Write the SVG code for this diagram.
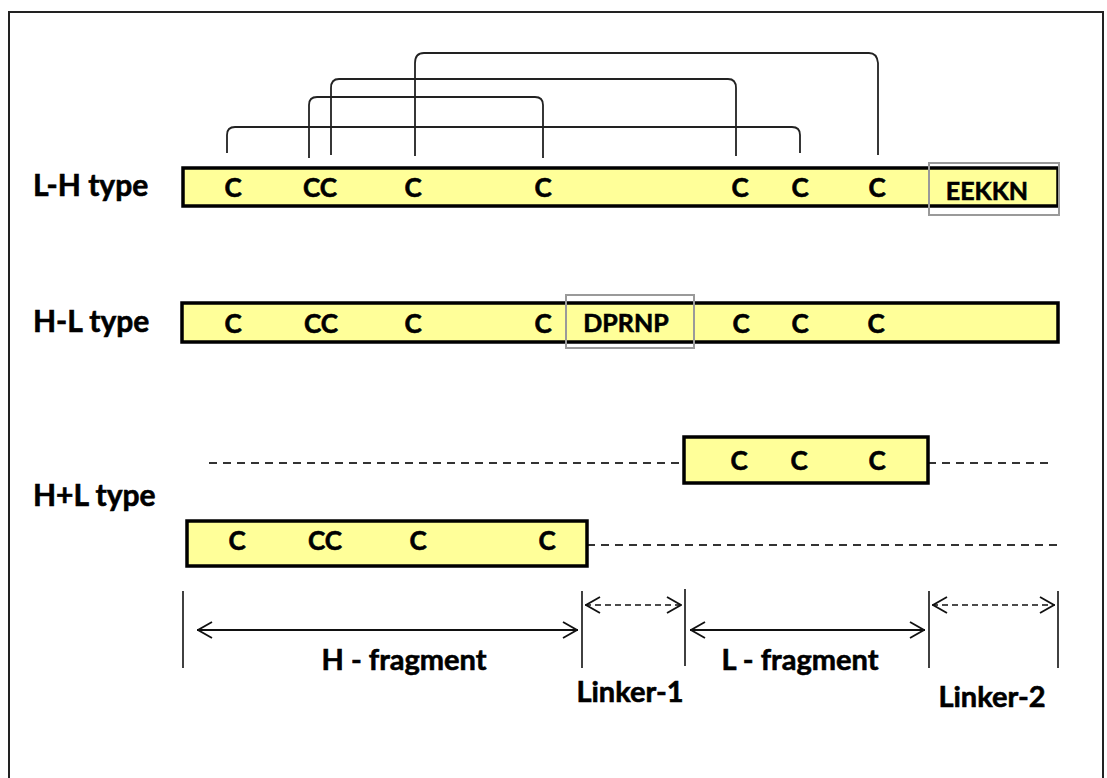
<svg xmlns="http://www.w3.org/2000/svg" width="1107" height="778" viewBox="0 0 1107 778">
<defs>
<style>
.bar{fill:#ffff99;stroke:#000;stroke-width:3.5}
.hl{fill:none;stroke:#9a9a9a;stroke-width:2}
.br{fill:none;stroke:#222;stroke-width:1.8}
.dash{stroke:#333;stroke-width:2;stroke-dasharray:8 6;fill:none}
.tick{stroke:#111;stroke-width:1.6}
.sarr{stroke:#111;stroke-width:1.8;fill:none}
.darr{stroke:#111;stroke-width:1.6;fill:none;stroke-dasharray:6 4}
text{font-family:Lato,"Open Sans","Liberation Sans",sans-serif;font-weight:bold;fill:#000;stroke:#000;stroke-width:0.6}
.lab{font-size:30px}
.c{font-size:26px;text-anchor:middle}
.seq{font-size:25px;text-anchor:middle}
.dim{font-size:29px;text-anchor:middle}
</style>
<marker id="ah" viewBox="0 0 16 18" refX="16" refY="9" markerWidth="16" markerHeight="18" markerUnits="userSpaceOnUse" orient="auto-start-reverse">
<path d="M1,1 L15,9 L1,17" fill="none" stroke="#111" stroke-width="1.8"/>
</marker>
</defs>
<rect x="9" y="12" width="1094" height="790" fill="#fff" stroke="#222" stroke-width="2"/>

<g id="connectors">
<path class="br" d="M227,153 L227,135 Q227,127 235,127 L792,127 Q800,127 800,135 L800,153"/>
<path class="br" d="M309,158 L309,105 Q309,97 317,97 L535,97 Q543,97 543,105 L543,158"/>
<path class="br" d="M331,155 L331,88 Q331,79 339,79 L728,79 Q736,79 736,88 L736,156"/>
<path class="br" d="M415,156 L415,63 Q415,53 424,53 L869,53 Q877,53 878,63 L878,155"/>
<line class="dash" x1="209" y1="463" x2="683" y2="463"/>
<line class="dash" x1="928" y1="463" x2="1052" y2="463"/>
<line class="dash" x1="587" y1="545" x2="1060" y2="545"/>
</g>

<g id="lh-type">
<text class="lab" x="33" y="196">L-H type</text>
<rect class="bar" x="183" y="168" width="875" height="38"/>
<text class="c" x="233" y="197">C</text>
<text class="c" x="320" y="197">CC</text>
<text class="c" x="413" y="197">C</text>
<text class="c" x="543" y="197">C</text>
<text class="c" x="740" y="197">C</text>
<text class="c" x="800" y="197">C</text>
<text class="c" x="877" y="197">C</text>
<rect class="hl" x="929" y="163" width="130" height="52"/>
<text class="seq" x="987" y="200">EEKKN</text>
</g>

<g id="hl-type">
<text class="lab" x="33" y="332">H-L type</text>
<rect class="bar" x="182" y="303" width="876" height="39"/>
<text class="c" x="233" y="333">C</text>
<text class="c" x="321" y="333">CC</text>
<text class="c" x="413" y="333">C</text>
<text class="c" x="543" y="333">C</text>
<text class="c" x="741" y="333">C</text>
<text class="c" x="800" y="333">C</text>
<text class="c" x="876" y="333">C</text>
<rect class="hl" x="566" y="295" width="128" height="53"/>
<text class="seq" x="626" y="332">DPRNP</text>
</g>

<g id="hpl-type">
<text class="lab" x="33" y="506">H+L type</text>
</g>

<g id="l-fragment-bar">
<rect class="bar" x="684" y="437" width="244" height="46"/>
<text class="c" x="739" y="470">C</text>
<text class="c" x="799" y="470">C</text>
<text class="c" x="877" y="470">C</text>
</g>

<g id="h-fragment-bar">
<rect class="bar" x="187" y="521" width="400" height="45"/>
<text class="c" x="237" y="550">C</text>
<text class="c" x="325" y="550">CC</text>
<text class="c" x="418" y="550">C</text>
<text class="c" x="547" y="550">C</text>
</g>

<g id="dimensions">
<line class="tick" x1="183" y1="591" x2="183" y2="668"/>
<line class="tick" x1="582" y1="591" x2="582" y2="668"/>
<line class="tick" x1="685" y1="589" x2="685" y2="666"/>
<line class="tick" x1="929" y1="591" x2="929" y2="668"/>
<line class="tick" x1="1058" y1="591" x2="1058" y2="668"/>
<line class="sarr" x1="197" y1="630" x2="578" y2="630" marker-start="url(#ah)" marker-end="url(#ah)"/>
<line class="sarr" x1="690" y1="630" x2="925" y2="630" marker-start="url(#ah)" marker-end="url(#ah)"/>
<line class="darr" x1="585" y1="605" x2="682" y2="605" marker-start="url(#ah)" marker-end="url(#ah)"/>
<line class="darr" x1="932" y1="605" x2="1055" y2="605" marker-start="url(#ah)" marker-end="url(#ah)"/>
<text class="dim" x="404" y="670">H - fragment</text>
<text class="dim" x="800" y="670">L - fragment</text>
<text class="dim" x="630" y="702">Linker-1</text>
<text class="dim" x="992" y="707">Linker-2</text>
</g>
</svg>
